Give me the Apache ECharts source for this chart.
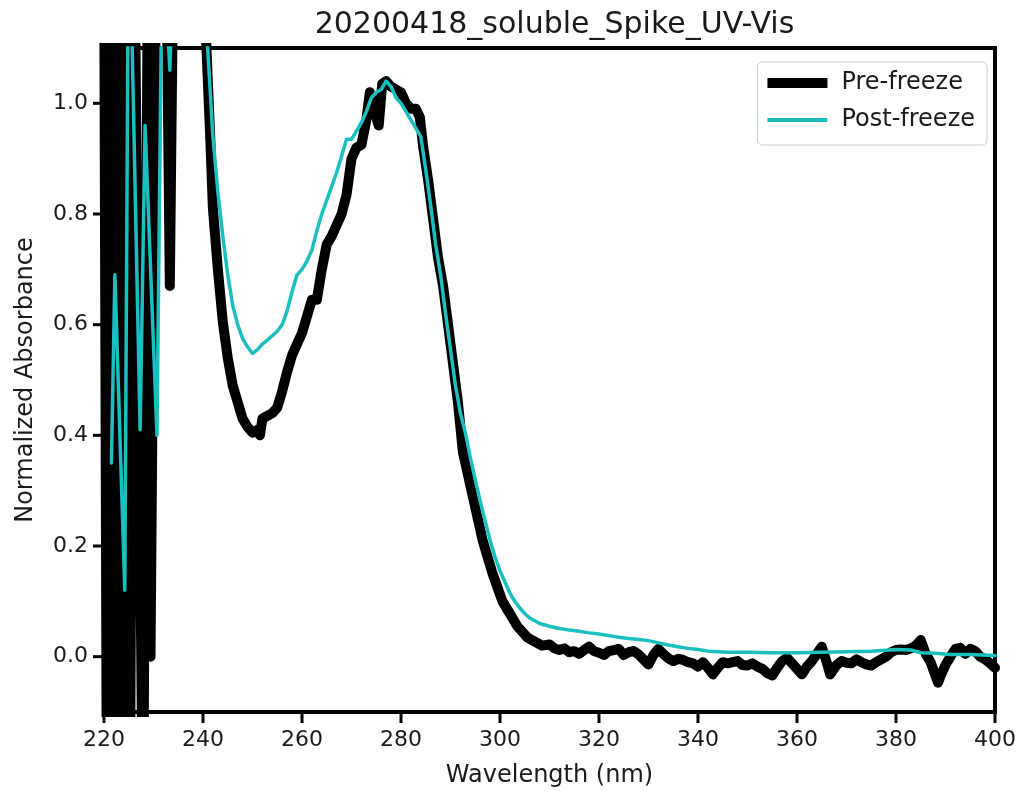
<!DOCTYPE html>
<html>
<head>
<meta charset="utf-8">
<script src="https://cdn.jsdelivr.net/npm/echarts@6/dist/echarts.min.js"></script>
<style>
html,body{margin:0;padding:0;background:#fff;}
#chart{width:1026px;height:793px;}
</style>
</head>
<body>
<div id="chart"></div>
<script>
// ---- Data ----
const chartTitle = '20200418_soluble_Spike_UV-Vis';
const seriesNames = ['Pre-freeze', 'Post-freeze'];
const xTicks = [220, 240, 260, 280, 300, 320, 340, 360, 380, 400];
const yTicks = [0.0, 0.2, 0.4, 0.6, 0.8, 1.0];

const preWl = [
  220.0, 220.6, 221.3, 222.0, 222.8, 223.6, 224.3, 225.2, 226.1, 227.9,
  228.9, 229.4, 230.6, 232.5, 233.3, 234.1, 238.0, 240.6, 241.5, 242.0,
  243, 244, 245, 246, 247, 248, 249, 250, 251, 251.5,
  252, 253, 254, 255, 256, 257, 258, 259, 260, 261,
  262, 263, 264, 265, 266, 267, 268, 269, 270, 271,
  272, 273, 273.7, 274.5, 275.5, 276.2, 277, 278, 279, 280,
  281, 282, 283, 283.8, 284.5, 285.5, 286.5, 287.5, 288.5, 289.5,
  290.5, 291.5, 292.5, 293.5, 294.5, 295.5, 296.5, 297.5, 298.5, 299.5,
  300.5, 301.5, 302.5, 303.5, 304.5, 305.5, 306.5, 307.5, 308.5, 310,
  311, 312, 313, 314, 315, 316, 317, 318, 319, 320,
  321, 322, 323, 324, 325, 326, 327, 328, 329, 330,
  331, 332, 333, 334, 335, 336, 337, 338, 339, 340,
  341, 342, 343, 344, 345, 346, 347, 348, 349, 350,
  351, 352, 353, 354, 355, 356, 357, 358, 359, 360,
  361, 362, 363, 364, 365, 366, 366.7, 368, 369, 370,
  371, 372, 373, 374, 375, 376, 377, 378, 379, 380,
  381, 382, 383, 384, 385, 386, 387, 388, 388.5, 389,
  390, 391, 392, 393, 394, 395, 396, 397, 398, 399, 400
];
const preAbs = [
  1.35, -0.35, 1.35, -0.35, 1.35, -0.35, 1.35, -0.35, 1.35, -0.35,
  1.35, 0.0, 1.35, 1.35, 0.67, 1.35, 1.3, 1.12, 0.93, 0.81,
  0.70, 0.605, 0.54, 0.49, 0.46, 0.43, 0.415, 0.405, 0.41, 0.40,
  0.43, 0.435, 0.44, 0.45, 0.48, 0.515, 0.545, 0.565, 0.585, 0.615,
  0.645, 0.645, 0.70, 0.745, 0.76, 0.78, 0.80, 0.835, 0.90, 0.92,
  0.925, 0.97, 1.02, 0.99, 0.96, 1.035, 1.04, 1.03, 1.025, 1.02,
  1.0, 0.99, 0.99, 0.975, 0.92, 0.86, 0.79, 0.72, 0.67, 0.60,
  0.53, 0.46, 0.37, 0.33, 0.29, 0.25, 0.21, 0.18, 0.15, 0.125,
  0.10, 0.085, 0.07, 0.055, 0.045, 0.035, 0.03, 0.025, 0.02, 0.022,
  0.015, 0.012, 0.015, 0.008, 0.01, 0.005, 0.012, 0.018, 0.01, 0.007,
  0.003, 0.01, 0.012, 0.014, 0.003, 0.008, 0.01, 0.004, -0.005, -0.014,
  0.003, 0.014, 0.005, -0.003, -0.008, -0.004, -0.006, -0.01, -0.012, -0.018,
  -0.01, -0.02, -0.032, -0.02, -0.01, -0.012, -0.01, -0.008, -0.015, -0.016,
  -0.012, -0.018, -0.022, -0.03, -0.034, -0.02, -0.008, -0.002, -0.012, -0.022,
  -0.032, -0.018, -0.008, 0.005, 0.018, -0.01, -0.032, -0.015, -0.008, -0.011,
  -0.012, -0.005, -0.01, -0.014, -0.016, -0.01, -0.005, 0.0, 0.008, 0.012,
  0.013, 0.012, 0.015, 0.02, 0.03, 0.005, -0.01, -0.035, -0.047, -0.035,
  -0.015, 0.0, 0.014, 0.016, 0.005, 0.014, 0.01, 0.0, -0.005, -0.012, -0.02
];

const postWl = [
  221.5, 222.2, 224.2, 225.0, 227.3, 228.3, 230.7, 231.9, 232.8, 233.3,
  233.8, 234.5, 240.0, 241, 242, 243, 244, 245, 246, 247,
  248, 249, 250, 251, 252, 253, 254, 255, 256, 257,
  258, 259, 260, 261, 262, 263, 264, 265, 266, 267,
  268, 269, 270, 271, 272, 273, 274, 275, 276, 277,
  278, 279, 280, 281, 282, 283, 284, 285, 286, 287,
  288, 289, 290, 291, 292, 293, 294, 295, 296, 297,
  298, 299, 300, 301, 302, 303, 304, 305, 306, 308,
  310, 312, 314, 316, 318, 320, 322, 324, 326, 328,
  330, 332, 334, 336, 338, 340, 342, 344, 346, 350,
  355, 360, 365, 370, 375, 380, 383, 385, 388, 391, 395, 400
];
const postAbs = [
  0.35, 0.69, 0.12, 1.4, 0.41, 0.96, 0.40, 1.4, 1.15, 1.06,
  1.2, 1.4, 1.3, 1.09, 0.94, 0.84, 0.76, 0.69, 0.635, 0.60,
  0.575, 0.56, 0.548, 0.555, 0.565, 0.572, 0.58, 0.588, 0.60, 0.625,
  0.66, 0.69, 0.70, 0.715, 0.735, 0.77, 0.80, 0.825, 0.85, 0.875,
  0.905, 0.935, 0.935, 0.95, 0.965, 0.985, 1.01, 1.02, 1.025, 1.04,
  1.03, 1.01, 1.0, 0.985, 0.97, 0.955, 0.94, 0.88, 0.815, 0.745,
  0.69, 0.62, 0.555, 0.49, 0.44, 0.405, 0.36, 0.32, 0.281, 0.245,
  0.21, 0.18, 0.155, 0.135, 0.115, 0.10, 0.088, 0.078, 0.07, 0.06,
  0.055, 0.051, 0.048, 0.046, 0.043, 0.041, 0.038, 0.035, 0.033, 0.031,
  0.029, 0.025, 0.021, 0.018, 0.015, 0.013, 0.01, 0.009, 0.008, 0.008,
  0.007, 0.007, 0.008, 0.009, 0.01, 0.013, 0.012, 0.007, 0.006, 0.004, 0.004, 0.002
];

// ---- Build chart ----
const zip = (a, b) => a.map((v, i) => [v, b[i]]);
const TXT = '#1a1a1a';
const FONT = 'DejaVu Sans';
const BLACK = '#000000';
const TEAL = '#1abfbf';
const X_MIN = 220, X_MAX = 400, Y_MIN = -0.1, Y_MAX = 1.1;

const chart = echarts.init(document.getElementById('chart'), null, {renderer: 'canvas'});
chart.setOption({
  animation: false,
  backgroundColor: '#fff',
  title: {
    text: chartTitle,
    left: 549.5,
    textAlign: 'center',
    top: 5,
    textStyle: {fontFamily: FONT, fontSize: 30, fontWeight: 'normal', color: TXT}
  },
  grid: {left: 104, right: 31, top: 48, bottom: 80, show: true, borderColor: '#000', borderWidth: 4},
  legend: {
    orient: 'vertical',
    right: 39, top: 62,
    data: [
      {name: seriesNames[0], icon: 'path://M0,0 L60,0 L60,10 L0,10 Z', itemStyle: {color: BLACK}},
      {name: seriesNames[1], icon: 'path://M0,0 L60,0 L60,4 L0,4 Z', itemStyle: {color: TEAL}}
    ],
    symbolKeepAspect: true,
    itemWidth: 60, itemHeight: 10, itemGap: 13,
    padding: [9, 12, 13, 10],
    backgroundColor: 'rgba(255,255,255,0.8)',
    borderColor: '#cccccc', borderWidth: 1, borderRadius: 5,
    textStyle: {fontFamily: FONT, fontSize: 24, color: TXT, padding: [0, 0, 0, 9]}
  },
  xAxis: {
    type: 'value', min: X_MIN, max: X_MAX, interval: 20,
    name: 'Wavelength (nm)', nameLocation: 'middle', nameGap: 52,
    nameTextStyle: {fontFamily: FONT, fontSize: 24, color: TXT},
    axisLine: {show: false, onZero: false},
    axisTick: {show: false},
    axisLabel: {fontFamily: FONT, fontSize: 22, color: TXT, margin: 17,
      formatter: v => String(v)},
    splitLine: {show: false}
  },
  yAxis: {
    type: 'value', min: Y_MIN, max: Y_MAX,
    name: 'Normalized Absorbance', nameLocation: 'middle', nameGap: 66, nameRotate: 90,
    nameTextStyle: {fontFamily: FONT, fontSize: 24, color: TXT},
    axisLine: {show: false, onZero: false},
    axisTick: {show: false},
    axisLabel: {fontFamily: FONT, fontSize: 22, color: TXT, margin: 16,
      customValues: yTicks, formatter: v => v.toFixed(1)},
    splitLine: {show: false}
  },
  series: [
    {
      name: seriesNames[0], type: 'line', data: zip(preWl, preAbs),
      showSymbol: false, symbol: 'none', clip: true,
      lineStyle: {color: BLACK, width: 10, cap: 'round', join: 'round'},
      itemStyle: {color: BLACK}
    },
    {
      name: seriesNames[1], type: 'line', data: zip(postWl, postAbs),
      showSymbol: false, symbol: 'none', clip: true,
      lineStyle: {color: TEAL, width: 3.5, cap: 'round', join: 'round'},
      itemStyle: {color: TEAL}
    }
  ]
});

// Tick marks placed through the chart's own scales (outside the frame, matplotlib style)
const TICK_LEN = 9;
const bottomPx = chart.convertToPixel({yAxisIndex: 0}, Y_MIN);
const leftPx = chart.convertToPixel({xAxisIndex: 0}, X_MIN);
const tickStyle = {stroke: '#000', lineWidth: 3};
const tickGraphics = [];
xTicks.forEach(v => {
  const px = chart.convertToPixel({xAxisIndex: 0}, v);
  tickGraphics.push({type: 'line', z: 100, silent: true,
    shape: {x1: px, y1: bottomPx + 2, x2: px, y2: bottomPx + 2 + TICK_LEN}, style: tickStyle});
});
yTicks.forEach(v => {
  const py = chart.convertToPixel({yAxisIndex: 0}, v);
  tickGraphics.push({type: 'line', z: 100, silent: true,
    shape: {x1: leftPx - 2, y1: py, x2: leftPx - 2 - TICK_LEN, y2: py}, style: tickStyle});
});
chart.setOption({graphic: tickGraphics});
</script>
</body>
</html>
